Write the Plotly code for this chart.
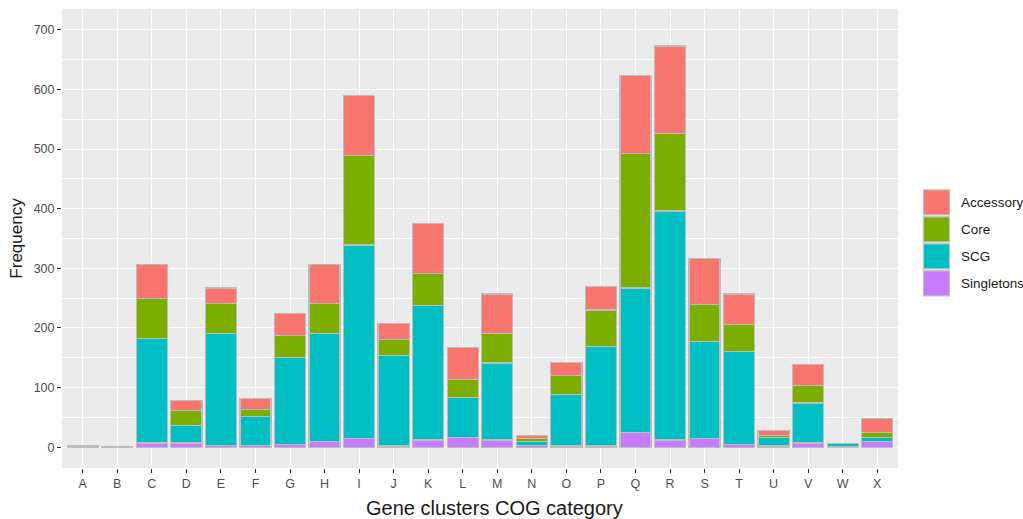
import plotly.graph_objects as go

categories = list("ABCDEFGHIJKLMNOPQRSTUVWX")
singletons = [0, 0, 7, 7, 3, 3, 4, 10, 14, 2, 12, 16, 12, 3, 2, 2, 25, 12, 15, 5, 2, 7, 1, 9]
scg        = [2, 1, 175, 29, 188, 48, 146, 180, 325, 152, 225, 67, 129, 6, 86, 167, 242, 384, 162, 156, 14, 67, 5, 7]
core       = [0, 0, 67, 26, 50, 12, 37, 51, 150, 26, 54, 30, 50, 5, 32, 61, 225, 130, 62, 45, 3, 29, 0, 8]
accessory  = [0, 0, 58, 16, 26, 19, 37, 66, 101, 28, 84, 54, 66, 6, 22, 39, 131, 147, 78, 51, 9, 36, 0, 24]

series_names = ["Singletons", "SCG", "Core", "Accessory"]
series_values = [singletons, scg, core, accessory]
series_colors = ["#C77CFF", "#00BFC4", "#7CAE00", "#F8766D"]

FONT = "Liberation Sans, Arial, sans-serif"
W, H = 1023, 519
ML, MR, MT, MB = 62, 125, 9, 51
PW, PH = W - ML - MR, H - MT - MB

def px_x(px):
    return (px - ML) / PW

def px_y(py):
    return (H - MB - py) / PH

fig = go.Figure()
for name, vals, color in zip(series_names, series_values, series_colors):
    fig.add_trace(go.Bar(
        x=categories, y=vals, name=name, width=0.9,
        marker=dict(color=color, line=dict(color="#BDBDBD", width=1.2)),
        showlegend=False,
    ))

# custom ggplot-style legend (top to bottom: Accessory, Core, SCG, Singletons)
shapes = []
annotations = []
legend_order = list(zip(series_names, series_colors))[::-1]
for i, (name, color) in enumerate(legend_order):
    cy = 202.3 + 27 * i
    shapes.append(dict(
        type="rect", xref="paper", yref="paper",
        x0=px_x(923.5), x1=px_x(949.5), y0=px_y(cy + 12.5), y1=px_y(cy - 12.5),
        fillcolor=color, line=dict(color="#BDBDBD", width=1.2), layer="above",
    ))
    annotations.append(dict(
        text=name, xref="paper", yref="paper", x=px_x(959), y=px_y(cy),
        xanchor="left", yanchor="middle", showarrow=False,
        font=dict(size=13.5, color="#1A1A1A", family=FONT),
    ))

annotations.append(dict(
    text="Gene clusters COG category", xref="paper", yref="paper",
    x=px_x(495), y=px_y(508), xanchor="center", yanchor="middle", showarrow=False,
    font=dict(size=20, color="#1A1A1A", family=FONT),
))

fig.update_layout(
    barmode="stack",
    width=W, height=H,
    margin=dict(l=ML, r=MR, t=MT, b=MB),
    paper_bgcolor="white",
    plot_bgcolor="#EBEBEB",
    font=dict(family=FONT, color="#4D4D4D", size=13),
    showlegend=False,
    shapes=shapes,
    annotations=annotations,
    xaxis=dict(
        range=[-0.6, 23.6],
        automargin=False,
        showgrid=True, gridcolor="white", gridwidth=1.3,
        ticks="outside", ticklen=4, tickcolor="#333333", tickwidth=1,
        tickfont=dict(size=12.5, color="#4D4D4D"),
        zeroline=False, showline=False,
    ),
    yaxis=dict(
        range=[-35, 735],
        automargin=False,
        tickvals=[0, 100, 200, 300, 400, 500, 600, 700],
        showgrid=True, gridcolor="white", gridwidth=1.3,
        minor=dict(tickvals=[50, 150, 250, 350, 450, 550, 650], showgrid=True, gridcolor="white", gridwidth=0.6),
        ticks="outside", ticklen=4, tickcolor="#333333", tickwidth=1,
        tickfont=dict(size=12.5, color="#4D4D4D"),
        title=dict(text="Frequency", font=dict(size=17, color="#1A1A1A"), standoff=6),
        zeroline=False, showline=False,
    ),
)

fig.write_html(
    "out.html",
    config={"displayModeBar": False},
    post_script="document.body.style.margin='0';document.body.style.padding='0';document.body.style.overflow='hidden';",
)
